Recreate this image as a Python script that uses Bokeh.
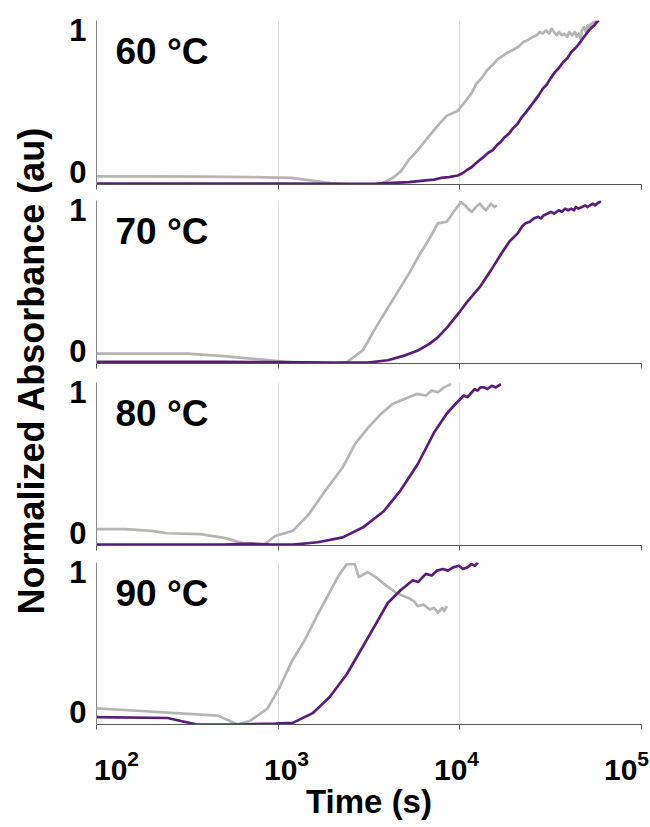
import math
from bokeh.plotting import figure
from bokeh.models import Range1d, FixedTicker, Label, LinearAxis, LogAxis, LogScale, LinearScale
from bokeh.layouts import row, column
from bokeh.embed import file_html
from bokeh.resources import INLINE

# ---------------- data ----------------
panel_labels = ["60 °C", "70 °C", "80 °C", "90 °C"]
y_ticks = [0, 1]
y_tick_labels = ["0", "1"]
x_ticks = [100, 1000, 10000, 100000]

t60_gray = [100, 198, 374, 706, 1172, 1500, 1947, 2508, 3445, 3765, 4275, 4731, 5236, 5871, 6498,
            7189, 7859, 8500, 9750, 10600, 11644, 12253, 13200, 14200, 15199, 16000, 17000, 18000,
            19590, 21000, 22500, 23600, 25250, 26500, 27500, 28600, 29770, 31000, 32000, 33000,
            34200, 35120, 36500, 37500, 39000, 40000, 41500, 43000, 44000, 45240, 46200, 47000,
            48200, 49450, 50500, 51000, 52500, 53200, 54050, 55000, 55500, 56150]
a60_gray = [0.05, 0.05, 0.048, 0.045, 0.04, 0.025, 0.008, 0.0, 0.0, 0.01, 0.04, 0.08, 0.15, 0.21, 0.27,
            0.33, 0.38, 0.42, 0.45, 0.50, 0.56, 0.61, 0.65, 0.70, 0.73, 0.76, 0.78, 0.80,
            0.82, 0.84, 0.87, 0.88, 0.90, 0.91, 0.93, 0.92, 0.94, 0.92, 0.95, 0.93,
            0.91, 0.93, 0.91, 0.92, 0.90, 0.93, 0.91, 0.93, 0.90, 0.92, 0.89, 0.94,
            0.96, 0.93, 0.97, 0.95, 0.98, 0.96, 0.99, 0.97, 1.0, 0.98]
t60_purple = [100, 1000, 2508, 3445, 4275, 5236, 6498, 7200, 7859, 8700, 9750, 10400, 11000, 11600, 12253,
              12900, 13600, 14400, 15199, 16000, 16800, 17700, 18621, 19700, 20800, 21900, 23100, 24400,
              25800, 27200, 28660, 30100, 31700, 33400, 35120, 37000, 39000, 41200, 43560, 45500, 47500,
              49400, 51360, 53000, 55000, 56700, 58320]
a60_purple = [0.005, 0.005, 0.004, 0.006, 0.01, 0.015, 0.025, 0.03, 0.04, 0.045, 0.055, 0.07, 0.09, 0.105, 0.13,
              0.15, 0.17, 0.195, 0.21, 0.24, 0.26, 0.29, 0.31, 0.345, 0.37, 0.41, 0.44, 0.475,
              0.51, 0.545, 0.585, 0.61, 0.65, 0.685, 0.71, 0.745, 0.77, 0.81, 0.835, 0.86, 0.89,
              0.915, 0.94, 0.955, 0.97, 0.99, 1.0]

t70_gray = [100, 200, 317, 500, 800, 1100, 1472, 2022, 2400, 2921, 3445, 4012, 4497, 5236, 5871, 6834,
            7566, 8481, 9386, 10128, 10700, 11070, 11644, 12253, 12893, 13563, 13908, 14820, 15500, 15990]
a70_gray = [0.06, 0.06, 0.06, 0.045, 0.025, 0.01, 0.0, 0.0, 0.01, 0.08, 0.22, 0.34, 0.43, 0.55, 0.65, 0.77,
            0.86, 0.87, 0.94, 0.99, 0.97, 0.95, 0.93, 0.96, 0.98, 0.95, 0.94, 0.98, 0.96, 0.97]
t70_purple = [100, 500, 1000, 2000, 3112, 4012, 5000, 5871, 6800, 7566, 8500, 9874, 11000, 12893, 14800,
              16826, 18800, 20873, 22000, 23000, 24300, 25500, 27000, 28000, 29000, 30500, 31720, 33000,
              35000, 36500, 38000, 39500, 41000, 42500, 43560, 45000, 47000, 49000, 50500, 52000, 54000,
              55500, 57500, 59840]
a70_purple = [0.01, 0.01, 0.008, 0.005, 0.005, 0.02, 0.05, 0.08, 0.12, 0.16, 0.22, 0.31, 0.38, 0.47, 0.57,
              0.67, 0.75, 0.80, 0.84, 0.86, 0.87, 0.89, 0.90, 0.89, 0.91, 0.92, 0.93, 0.92,
              0.94, 0.93, 0.95, 0.94, 0.95, 0.94, 0.96, 0.95, 0.96, 0.97, 0.96, 0.97, 0.98,
              0.97, 0.985, 0.995]

t80_gray = [100, 144, 200, 246, 374, 514, 706, 821, 969, 1202, 1472, 1827, 2267, 2640, 3112, 3624, 4275,
            5236, 5800, 6498, 7000, 7566, 8200, 8921]
a80_gray = [0.10, 0.10, 0.09, 0.075, 0.07, 0.045, 0.0, 0.0, 0.06, 0.09, 0.19, 0.34, 0.48, 0.62, 0.72, 0.80, 0.87,
            0.91, 0.93, 0.92, 0.95, 0.94, 0.97, 0.99]
t80_purple = [100, 500, 700, 921, 1202, 1651, 2267, 2921, 3813, 4731, 5871, 7189, 8481, 9874, 10500, 11000,
              11644, 12100, 12500, 13000, 13563, 14200, 15000, 15800, 16826]
a80_purple = [0.005, 0.005, 0.012, 0.005, 0.005, 0.02, 0.05, 0.11, 0.21, 0.34, 0.50, 0.69, 0.81, 0.89, 0.92, 0.91,
              0.94, 0.96, 0.95, 0.97, 0.97, 0.96, 0.98, 0.97, 0.99]

t90_gray = [100, 168, 272, 464, 598, 706, 875, 1019, 1202, 1400, 1651, 1827, 2127, 2385, 2640, 2777, 3112,
            3445, 3813, 4497, 5236, 5600, 5871, 6300, 6834, 7200, 7566, 8000, 8200, 8481]
a90_gray = [0.10, 0.085, 0.07, 0.055, 0.0, 0.025, 0.10, 0.23, 0.40, 0.52, 0.68, 0.77, 0.91, 0.99, 0.99, 0.91, 0.94,
            0.91, 0.87, 0.81, 0.78, 0.76, 0.73, 0.74, 0.71, 0.72, 0.69, 0.72, 0.70, 0.73]
t90_purple = [100, 246, 356, 598, 969, 1202, 1549, 1921, 2385, 2921, 3445, 4012, 4731, 5100, 5508, 5900, 6498,
              7000, 7500, 8060, 8600, 9200, 9874, 10400, 11000, 11600, 12100, 12571]
a90_purple = [0.045, 0.04, 0.0, 0.0, 0.005, 0.01, 0.07, 0.17, 0.31, 0.48, 0.62, 0.75, 0.83, 0.86, 0.89, 0.88, 0.93,
              0.92, 0.95, 0.96, 0.95, 0.97, 0.98, 0.96, 0.97, 0.99, 0.98, 1.0]

series = [
    (t60_gray, a60_gray, t60_purple, a60_purple),
    (t70_gray, a70_gray, t70_purple, a70_purple),
    (t80_gray, a80_gray, t80_purple, a80_purple),
    (t90_gray, a90_gray, t90_purple, a90_purple),
]

# ---------------- styling ----------------
FONT = "Liberation Sans"
GRAY = "#b5b5b5"
PURPLE = "#5a1d7c"
frame_heights = [164, 163, 163, 162]
borders_top = [20, 8, 11, 9]
borders_bottom = [8, 8, 8, 103]
# where the y tick labels sit (the reference draws them inside the axis span)
lab0_up, lab1_down = 13, 9          # px
# where the x tick labels sit: 10^2 label centre 20px right of the axis start,
# 10^5 label centre 15px left of the axis end (so that it is not cut off)
FRAME_W = 545
xlab_left, xlab_right = 20, 15

panels = []
for i in range(4):
    last = (i == 3)
    h = frame_heights[i]
    p = figure(x_axis_type="log", x_range=Range1d(100, 100000), y_range=Range1d(0, 1),
               frame_width=FRAME_W, frame_height=h,
               min_border_left=36, min_border_right=9,
               min_border_top=borders_top[i], min_border_bottom=borders_bottom[i],
               toolbar_location=None, output_backend="svg", outline_line_color=None,
               background_fill_color="white", border_fill_color="white")
    tg, ag, tp, ap = series[i]
    p.line(tg, ag, line_color=GRAY, line_width=2.7, line_join="round")
    p.line(tp, ap, line_color=PURPLE, line_width=2.7, line_join="round")

    # x axis (line + decade ticks, labels drawn by a second axis on the last panel)
    p.xaxis.ticker = FixedTicker(ticks=x_ticks)
    p.xaxis.major_label_overrides = {t: "" for t in x_ticks}
    p.xaxis.major_label_standoff = 0
    p.xaxis.major_label_text_font_size = "1px"
    p.xaxis.major_tick_out = 5
    p.xaxis.major_tick_in = 0
    p.xaxis.minor_tick_line_color = None
    p.xaxis.axis_line_color = "#555555"
    p.xaxis.major_tick_line_color = "#555555"
    p.xgrid.ticker = FixedTicker(ticks=x_ticks)
    p.xgrid.grid_line_color = "#dddddd"
    p.ygrid.visible = False

    # y axis: labels placed like the reference via a label range
    p.yaxis.visible = False
    span = h - lab0_up - lab1_down
    lo = -lab0_up / span
    hi = 1 + lab1_down / span
    p.extra_y_ranges = {"ylab": Range1d(lo, hi)}
    p.extra_y_scales = {"ylab": LinearScale()}
    ya = LinearAxis(y_range_name="ylab", ticker=FixedTicker(ticks=y_ticks),
                    major_label_overrides={t: s for t, s in zip(y_ticks, y_tick_labels)},
                    major_tick_in=0, major_tick_out=0, minor_tick_line_color=None,
                    axis_line_color="#8a8a8a", major_label_standoff=10,
                    major_label_text_font=FONT, major_label_text_font_size="31px",
                    major_label_text_font_style="bold", major_label_text_color="black")
    p.add_layout(ya, "left")

    # panel label
    p.add_layout(Label(x=100, y=1, x_offset=19, y_offset=-31, text=panel_labels[i],
                       text_align="left", text_baseline="middle", text_font=FONT,
                       text_font_size="37px", text_font_style="bold", text_color="black"))

    if last:
        dec = (FRAME_W - xlab_left - xlab_right) / 3.0
        lo_x = 10 ** (2 - xlab_left / dec)
        hi_x = 10 ** (5 + xlab_right / dec)
        p.extra_x_ranges = {"xlab": Range1d(lo_x, hi_x)}
        p.extra_x_scales = {"xlab": LogScale()}
        xa = LogAxis(x_range_name="xlab", ticker=FixedTicker(ticks=x_ticks),
                     major_tick_in=0, major_tick_out=0, minor_tick_line_color=None,
                     axis_line_color=None, major_label_standoff=20,
                     major_label_text_font=FONT, major_label_text_font_size="30px",
                     major_label_text_font_style="bold", major_label_text_color="black",
                     axis_label="Time (s)", axis_label_text_font=FONT,
                     axis_label_text_font_size="33px", axis_label_text_font_style="bold",
                     axis_label_text_color="black", axis_label_standoff=0)
        p.add_layout(xa, "below")
    panels.append(p)

# y title figure
yt = figure(width=60, height=827, x_range=Range1d(0, 1), y_range=Range1d(0, 1),
            x_axis_type=None, y_axis_type=None, min_border=0, outline_line_color=None,
            toolbar_location=None, output_backend="svg")
yt.xgrid.visible = False
yt.ygrid.visible = False
yt.add_layout(Label(x=0.52, y=(827 - 370) / 827, text="Normalized Absorbance (au)",
                    angle=math.pi / 2, text_align="center", text_baseline="middle",
                    text_font=FONT, text_font_size="36px", text_font_style="bold",
                    text_color="black"))

layout = row(yt, column(*panels, spacing=0), spacing=0)
open("out.html", "w").write(file_html(layout, INLINE))
